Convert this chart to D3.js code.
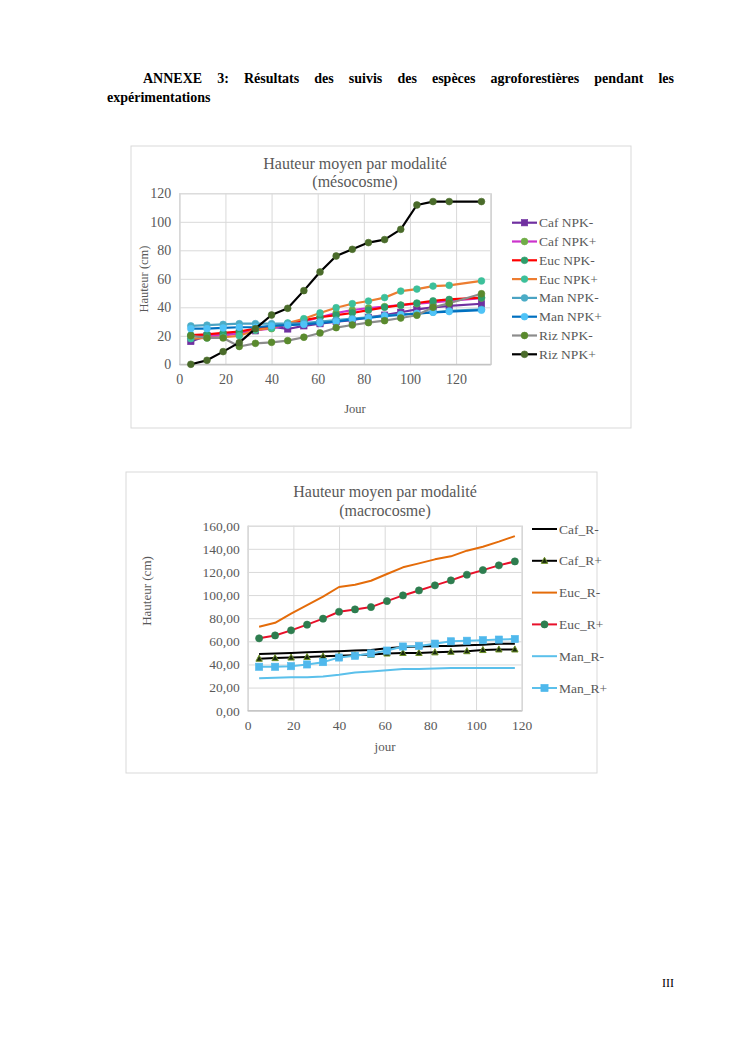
<!DOCTYPE html>
<html><head><meta charset="utf-8">
<script src="https://cdn.jsdelivr.net/npm/d3@7"></script>
<style>
body{margin:0;background:#fff;}
svg{display:block;}
svg text{font-family:"Liberation Serif","Times New Roman","DejaVu Serif",serif !important;}
</style></head>
<body>
<svg id="page" width="745" height="1053"></svg>
<script>
// ---------- DATA ----------
const mesoDays = [5,12,19,26,33,40,47,54,61,68,75,82,89,96,103,110,117,131];
const mesoNames = ["Caf NPK-","Caf NPK+","Euc NPK-","Euc NPK+","Man NPK-","Man NPK+","Riz NPK-","Riz NPK+"];
const cafNPKm = [16,20,20.5,22,23.5,26.5,24.8,27,28.5,30,31,33,34.5,36.5,38.5,40,41,42.5];
const cafNPKp = [20,20,20.5,21.5,24,25,28,30,33,36,38,39.5,40.5,41.5,42.5,43.5,44.5,46.5];
const eucNPKm = [20.5,21,22,23,25,26.5,28,31,33,34.5,36,38,40,41.5,43,44.5,45.5,46.8];
const eucNPKp = [18,18.5,19,20,24,25.5,29,32,36,39.7,42.5,44.4,46.8,51.4,52.8,54.9,55.4,58.5];
const manNPKm = [27,27.5,28,28.5,28.5,28.5,28.5,29,30,31,32,33,34,35,35.5,36.5,37.5,38.5];
const manNPKp = [25,25,25.5,26,26,27,27.5,28,29,30,31.5,32.5,34,34.6,35.8,36.5,37,38];
const rizNPKm = [20,18.5,18.5,12.5,14.7,15.4,16.6,19,22,25.7,27.6,29.2,30.6,32.5,34.4,40,42.8,49.5];
const rizNPKp = [0,2.8,8.9,15.2,25,34.6,39.3,51.7,64.8,76,80.7,85.4,87.5,94.7,111.8,114.2,114.2,114.2];
const mesoXTicks = [0,20,40,60,80,100,120];
const mesoYTicks = [0,20,40,60,80,100,120];

const macroDays = [5,12,19,26,33,40,47,54,61,68,75,82,89,96,103,110,117];
const macroNames = ["Caf_R-","Caf_R+","Euc_R-","Euc_R+","Man_R-","Man_R+"];
const cafRm = [49,49.5,50,50.5,51,51.5,52,52.5,54,55,55.5,56,56,56.5,57,58,58];
const cafRp = [45,45.5,46,46.5,47,47.5,48,48.5,49.5,50,50,50.5,51,51.5,52.5,53,53];
const eucRm = [72.6,76,84,91.4,98.6,107,109,112.4,118.2,124,127.4,130.9,133.5,138.4,141.8,146.2,151];
const eucRp = [62.6,65.1,69.5,74.4,79.6,85.6,87.6,89.6,94.8,99.7,104,108.4,112.7,117.6,121.6,125.7,129.1];
const manRm = [28,28.5,29,29,29.5,31,33,34,35,36,36,36.5,37,37,37,37,37];
const manRp = [38,38,38.5,40,42,46,47.5,49.5,52,55.5,56,58,60,60.5,61,61.5,62];
const macroXTicks = [0,20,40,60,80,100,120];
const macroYTicks = [0,20,40,60,80,100,120,140,160];

// ---------- STYLES ----------
const mesoStyles = [
  {line:"#7030A0", fill:"#7030A0", shape:"square"},
  {line:"#CC33CC", fill:"#70AD47", shape:"circle"},
  {line:"#FF0000", fill:"#2E9E6B", shape:"circle"},
  {line:"#ED7D31", fill:"#3CC09A", shape:"circle"},
  {line:"#4BA3C3", fill:"#4BACC6", shape:"circle"},
  {line:"#0070C0", fill:"#4FC3F7", shape:"circle"},
  {line:"#8C8C8C", fill:"#5A8A2E", shape:"circle"},
  {line:"#000000", fill:"#4A6B2A", shape:"circle"}
];
const macroStyles = [
  {line:"#000000", shape:null},
  {line:"#000000", fill:"#1A2A10", stroke:"#6B8E23", shape:"triangle"},
  {line:"#E46C0A", shape:null},
  {line:"#E8102A", fill:"#2E7D4F", shape:"circle"},
  {line:"#5BC0EB", shape:null},
  {line:"#5BC0EB", fill:"#4FB8EC", shape:"square"}
];

const FONT = '"Liberation Serif","Times New Roman","DejaVu Serif",serif';
const svg = d3.select("#page");
const grey = "#595959";

// ---------- HEADER ----------
function justifyLine(words, x0, x1, y, size){
  const g = svg.append("g");
  const els = words.map(w => g.append("text").attr("y", y).style("font-size", size+"px").style("font-family",FONT)
     .attr("font-weight","bold").attr("fill","#000").text(w));
  const widths = els.map(e => e.node().getComputedTextLength());
  const total = d3.sum(widths);
  const gap = (x1 - x0 - total) / (words.length - 1);
  let x = x0;
  els.forEach((e,i)=>{ e.attr("x", x); x += widths[i] + gap; });
}
justifyLine(["ANNEXE","3:","Résultats","des","suivis","des","espèces","agroforestières","pendant","les"], 143, 674, 83, 14);
svg.append("text").attr("x",107).attr("y",102).style("font-size","14px").style("font-family",FONT).attr("font-weight","bold").text("expérimentations");
svg.append("text").attr("x",674).attr("y",987).style("font-size","12px").style("font-family",FONT).attr("text-anchor","end").text("III");

// ---------- MARKERS ----------
function marker(g, shape, x, y, st, size){
  if(!shape) return;
  if(shape==="circle"){
    g.append("circle").attr("cx",x).attr("cy",y).attr("r",size).attr("fill",st.fill).attr("stroke",st.stroke||st.fill).attr("stroke-width",0.6);
  } else if(shape==="square"){
    g.append("rect").attr("x",x-size).attr("y",y-size).attr("width",2*size).attr("height",2*size).attr("fill",st.fill).attr("stroke",st.stroke||st.fill).attr("stroke-width",0.6);
  } else if(shape==="triangle"){
    const s=size;
    g.append("path").attr("d",`M${x},${y-s*1.1}L${x+s},${y+s*0.8}L${x-s},${y+s*0.8}Z`).attr("fill",st.fill).attr("stroke",st.stroke).attr("stroke-width",1);
  }
}

// ---------- CHART ----------
function chart(cfg){
  const g = svg.append("g");
  g.append("rect").attr("x",cfg.box[0]).attr("y",cfg.box[1]).attr("width",cfg.box[2]).attr("height",cfg.box[3])
   .attr("fill","#fff").attr("stroke","#D9D9D9").attr("stroke-width",1);
  const x = d3.scaleLinear().domain(cfg.xDom).range([cfg.plot[0], cfg.plot[1]]);
  const y = d3.scaleLinear().domain(cfg.yDom).range([cfg.plot[3], cfg.plot[2]]);
  const gx = g.append("g").attr("transform",`translate(0,${cfg.plot[3]})`)
    .call(d3.axisBottom(x).tickValues(cfg.xTicks).tickSize(-(cfg.plot[3]-cfg.plot[2])).tickFormat(d=>d).tickPadding(10));
  gx.attr("font-family",FONT);
  gx.select(".domain").attr("stroke","#BFBFBF");
  gx.selectAll(".tick line").attr("stroke","#D9D9D9");
  gx.selectAll(".tick text").attr("fill",grey).style("font-size",cfg.tickSize+"px").style("font-family",FONT);
  const gy = g.append("g").attr("transform",`translate(${cfg.plot[0]},0)`)
    .call(d3.axisLeft(y).tickValues(cfg.yTicks).tickSize(-(cfg.plot[1]-cfg.plot[0])).tickFormat(cfg.yFmt).tickPadding(8));
  gy.attr("font-family",FONT);
  gy.select(".domain").attr("stroke","#D9D9D9");
  gy.selectAll(".tick line").attr("stroke","#D9D9D9");
  gy.selectAll(".tick text").attr("fill",grey).style("font-size",cfg.tickSize+"px").style("font-family",FONT);
  if(cfg.rightBorder) g.append("line").attr("x1",cfg.plot[1]).attr("x2",cfg.plot[1]).attr("y1",cfg.plot[2]).attr("y2",cfg.plot[3]).attr("stroke","#D9D9D9");
  g.append("line").attr("x1",cfg.plot[0]).attr("x2",cfg.plot[1]).attr("y1",cfg.plot[3]).attr("y2",cfg.plot[3]).attr("stroke","#BFBFBF");
  cfg.title.forEach((t,i)=> g.append("text").attr("x",cfg.titleX).attr("y",cfg.titleY+i*cfg.titleGap)
      .attr("text-anchor","middle").style("font-size",cfg.titleSize+"px").style("font-family",FONT).attr("fill",grey).text(t));
  g.append("text").attr("transform",`translate(${cfg.yLab[0]},${cfg.yLab[1]}) rotate(-90)`).attr("text-anchor","middle")
    .style("font-size",cfg.labSize+"px").style("font-family",FONT).attr("fill",grey).text("Hauteur (cm)");
  g.append("text").attr("x",cfg.xLab[0]).attr("y",cfg.xLab[1]).attr("text-anchor","middle")
    .style("font-size",cfg.labSize+"px").style("font-family",FONT).attr("fill",grey).text(cfg.xName);
  const line = d3.line().x(d=>x(d[0])).y(d=>y(d[1]));
  cfg.series.forEach((vals,i)=>{
    const st = cfg.styles[i];
    const pts = cfg.days.map((d,j)=>[d,vals[j]]);
    g.append("path").attr("d",line(pts)).attr("fill","none").attr("stroke",st.line).attr("stroke-width",cfg.lw).attr("stroke-linejoin","round");
    pts.forEach(p=>marker(g, st.shape, x(p[0]), y(p[1]), st, cfg.ms[st.shape]||3));
  });
  cfg.names.forEach((n,i)=>{
    const st = cfg.styles[i];
    const yy = cfg.leg[1] + i*cfg.leg[4];
    g.append("line").attr("x1",cfg.leg[0]).attr("x2",cfg.leg[2]).attr("y1",yy).attr("y2",yy).attr("stroke",st.line).attr("stroke-width",cfg.lw);
    marker(g, st.shape, (cfg.leg[0]+cfg.leg[2])/2, yy, st, cfg.ms[st.shape]||3);
    g.append("text").attr("x",cfg.leg[3]).attr("y",yy+4.5).style("font-size",cfg.legSize+"px").style("font-family",FONT).attr("fill",grey).text(n);
  });
}

chart({
  box:[131,146,500,282], plot:[179.3,490.7,193.3,364.3],
  xDom:[0,135], yDom:[0,120], xTicks:mesoXTicks, yTicks:mesoYTicks, yFmt:d=>d,
  tickSize:14, title:["Hauteur moyen par modalité","(mésocosme)"], titleX:355, titleY:169, titleGap:18, titleSize:16,
  yLab:[148,279], xLab:[355,413], xName:"Jour", labSize:12.5,
  days:mesoDays, names:mesoNames,
  series:[cafNPKm,cafNPKp,eucNPKm,eucNPKp,manNPKm,manNPKp,rizNPKm,rizNPKp],
  styles:mesoStyles, lw:2.2, ms:{circle:3.4, square:3.2},
  leg:[512,222.7,537,539,18.8], legSize:13.5, rightBorder:true
});

chart({
  box:[126,472,471,301], plot:[247.7,521.7,525.7,710.7],
  xDom:[0,120], yDom:[0,160], xTicks:macroXTicks, yTicks:macroYTicks, yFmt:d=>d3.format(".2f")(d).replace(".",","),
  tickSize:13.5, title:["Hauteur moyen par modalité","(macrocosme)"], titleX:385, titleY:497, titleGap:19, titleSize:16,
  yLab:[151,591], xLab:[385,751], xName:"jour", labSize:13,
  days:macroDays, names:macroNames,
  series:[cafRm,cafRp,eucRm,eucRp,manRm,manRp],
  styles:macroStyles, lw:2, ms:{circle:3.6, square:3.6, triangle:3.2},
  leg:[532,529,557,559,31.8], legSize:13.5, rightBorder:false
});
</script>
</body></html>
